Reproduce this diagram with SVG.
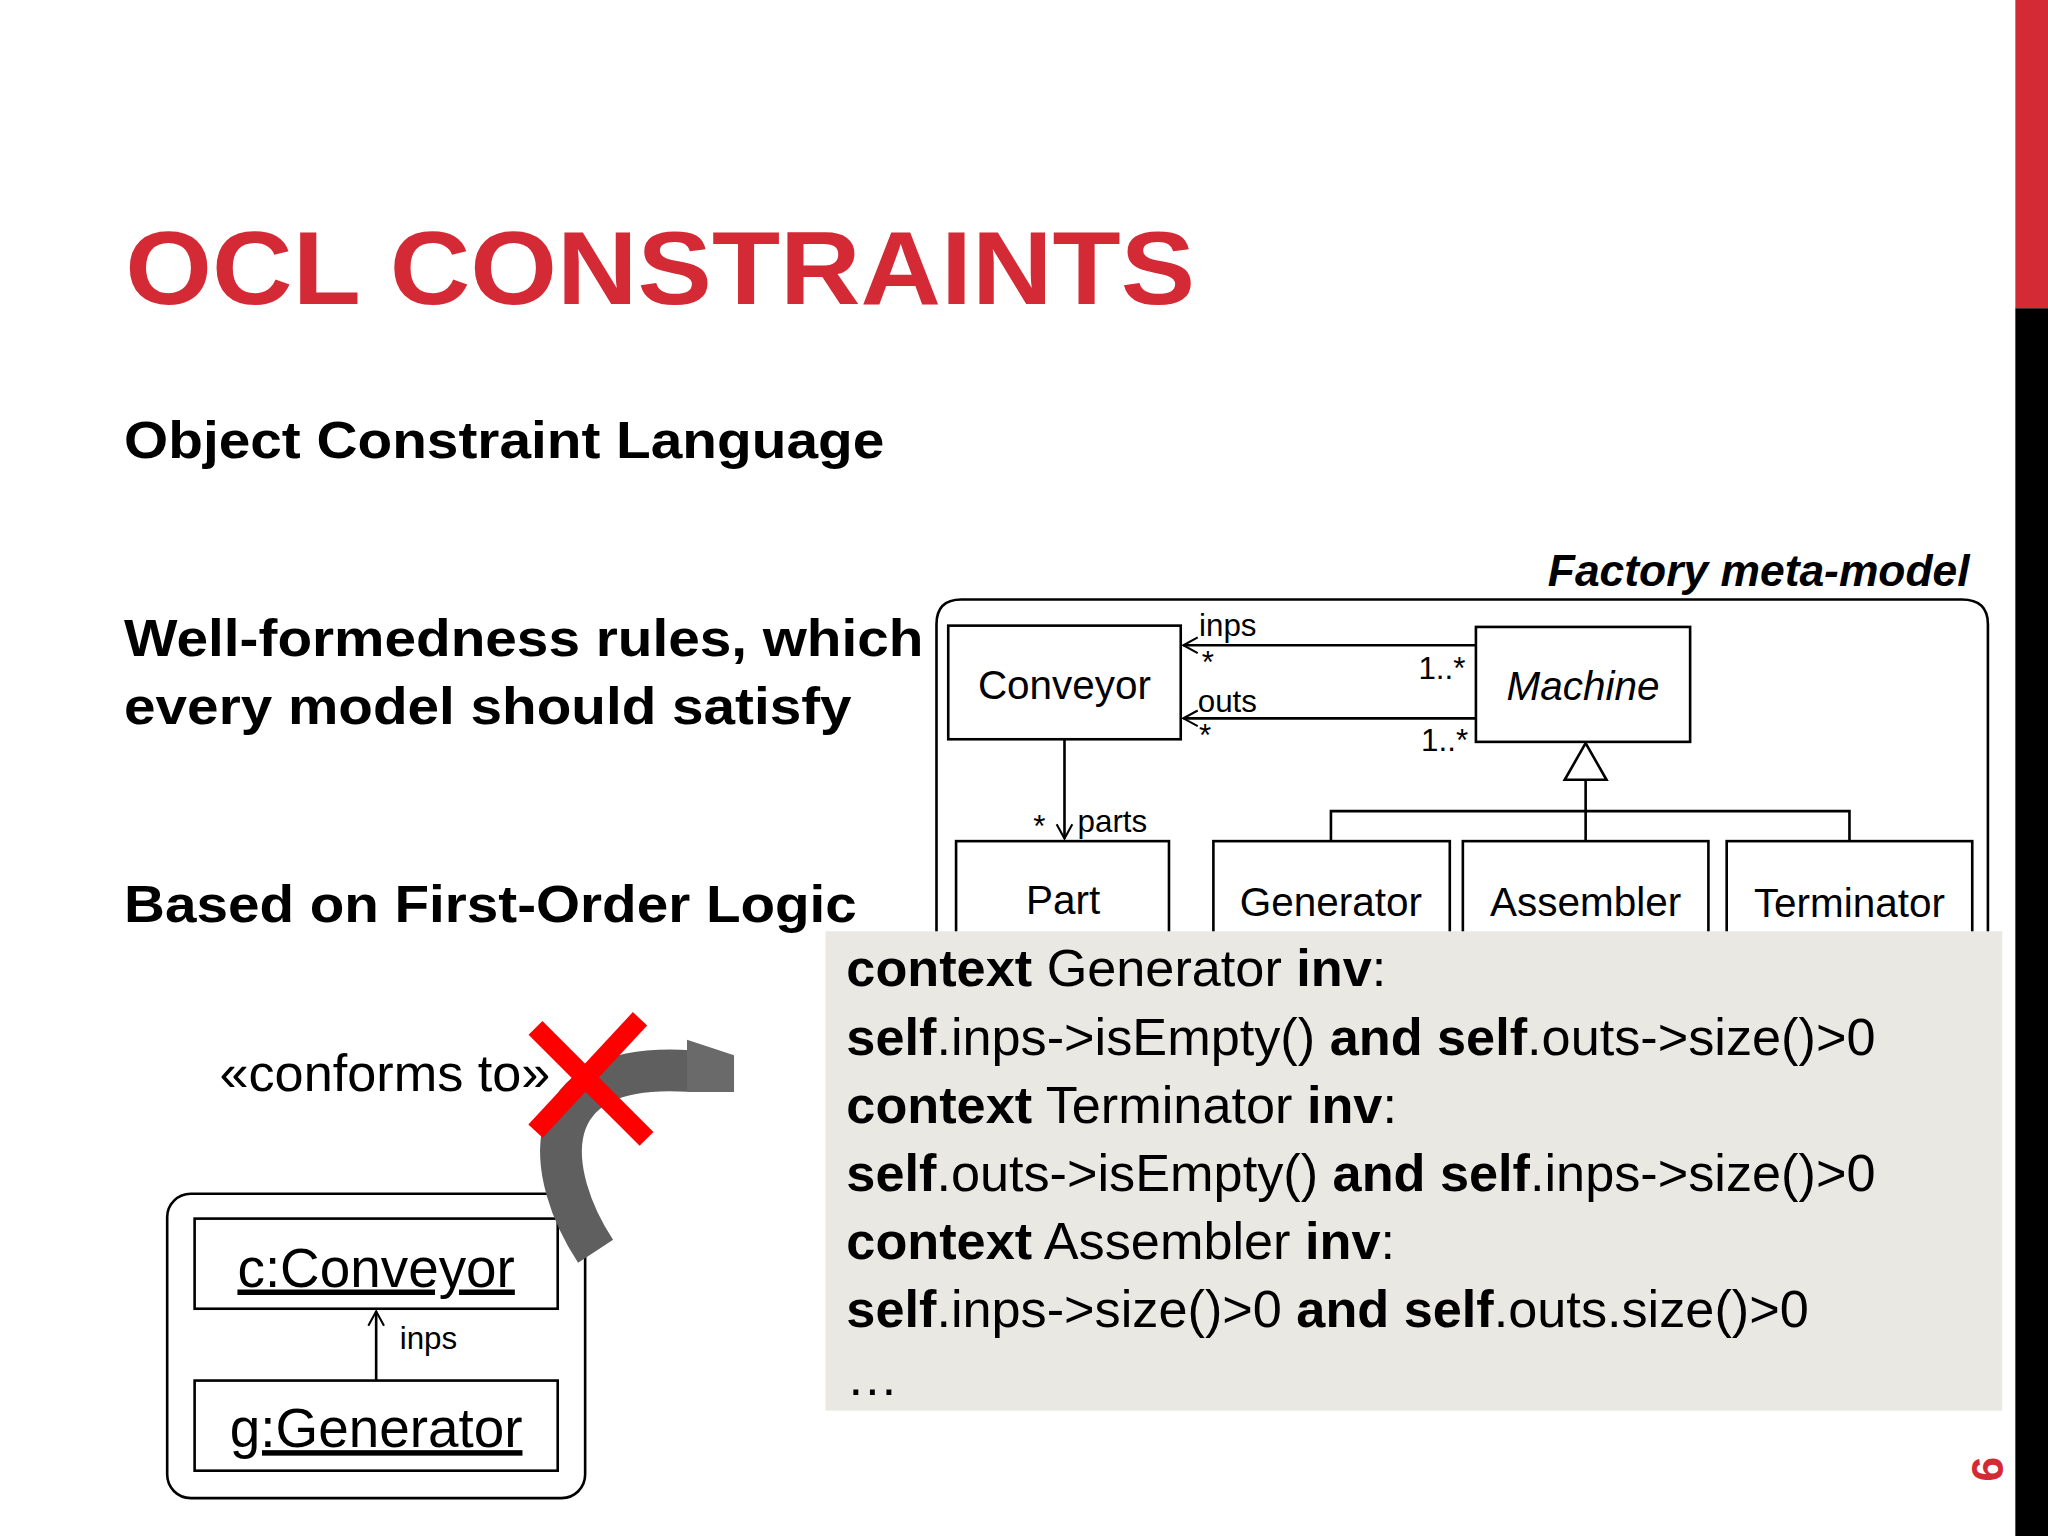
<svg xmlns="http://www.w3.org/2000/svg" width="2048" height="1536" viewBox="0 0 2048 1536">
<defs>
<style>
.s{font-family:"Liberation Sans",Arial,sans-serif}
.b{font-weight:bold}
.box{fill:#fff;stroke:#000;stroke-width:2}
.ln{fill:none;stroke:#000;stroke-width:2}
.uml{font-family:"Liberation Sans",Arial,sans-serif;font-size:31px;text-anchor:middle}
.sm{font-family:"Liberation Sans",Arial,sans-serif;font-size:24px}
.code{font-family:"Liberation Sans",Arial,sans-serif;font-size:40px}
</style>
<marker id="open" markerWidth="14" markerHeight="14" refX="12" refY="7" orient="auto" markerUnits="userSpaceOnUse">
<path d="M1,1 L12,7 L1,13" fill="none" stroke="#000" stroke-width="1.6"/>
</marker>
</defs>
<rect width="2048" height="1536" fill="#fff"/>
<g transform="scale(1.30612)">
<rect x="1543" y="0" width="25" height="236" fill="#d42a35"/>
<rect x="1543" y="236" width="25" height="940" fill="#000"/>
<text transform="translate(1510,1125) rotate(90)" class="s b" font-size="34" fill="#d42a35" text-anchor="middle">9</text>

<text x="96" y="233" class="s b" font-size="80" fill="#d42a35" textLength="819" lengthAdjust="spacingAndGlyphs">OCL CONSTRAINTS</text>
<text x="95" y="351" class="s b" font-size="40" textLength="582" lengthAdjust="spacingAndGlyphs">Object Constraint Language</text>
<text x="95" y="502" class="s b" font-size="40" textLength="612" lengthAdjust="spacingAndGlyphs">Well-formedness rules, which</text>
<text x="95" y="554" class="s b" font-size="40" textLength="557" lengthAdjust="spacingAndGlyphs">every model should satisfy</text>
<text x="95" y="706" class="s b" font-size="40" textLength="561" lengthAdjust="spacingAndGlyphs">Based on First-Order Logic</text>

<text x="1508" y="449" class="s b" font-size="34" font-style="italic" text-anchor="end">Factory meta-model</text>
<path d="M717 720 V478 Q717 459 736 459 H1502 Q1522 459 1522 478 V720" class="ln" stroke-width="2.5"/>

<g id="connectors">
<line x1="1130" y1="494" x2="906" y2="494" class="ln" marker-end="url(#open)"/>
<line x1="1130" y1="550" x2="906" y2="550" class="ln" marker-end="url(#open)"/>
<line x1="815" y1="566" x2="815" y2="642" class="ln" stroke-width="1.5" marker-end="url(#open)"/>
<polyline points="1019,644 1019,621 1416,621 1416,644" class="ln"/>
<line x1="1214" y1="597" x2="1214" y2="644" class="ln"/>
<polygon points="1214,569 1198,597 1230,597" fill="#fff" stroke="#000" stroke-width="2"/>
<text x="918" y="487" class="sm">inps</text>
<text x="920" y="515" class="sm">*</text>
<text x="1122" y="520" class="sm" text-anchor="end">1..*</text>
<text x="917" y="545" class="sm">outs</text>
<text x="918" y="571" class="sm">*</text>
<text x="1124" y="575" class="sm" text-anchor="end">1..*</text>
<text x="791" y="641" class="sm">*</text>
<text x="825" y="637" class="sm">parts</text>
<line x1="288" y1="1057" x2="288" y2="1004" class="ln" marker-end="url(#open)"/>
<text x="306" y="1033" class="sm" font-size="27">inps</text>
</g>

<g id="conveyor"><rect x="726" y="479" width="178" height="87" class="box"/><text x="815" y="535" class="uml">Conveyor</text></g>
<g id="machine"><rect x="1130" y="480" width="164" height="88" class="box"/><text x="1212" y="536" class="uml" font-style="italic">Machine</text></g>
<g id="part"><rect x="732" y="644" width="163" height="80" class="box"/><text x="814" y="700" class="uml">Part</text></g>
<g id="generator"><rect x="929" y="644" width="181" height="80" class="box"/><text x="1019" y="701" class="uml">Generator</text></g>
<g id="assembler"><rect x="1120" y="644" width="188" height="80" class="box"/><text x="1214" y="701" class="uml">Assembler</text></g>
<g id="terminator"><rect x="1322" y="644" width="188" height="80" class="box"/><text x="1416" y="702" class="uml">Terminator</text></g>

<g id="ocl">
<rect x="632" y="713" width="901" height="367" fill="#e9e8e3"/>
<text x="648" y="755" class="code"><tspan font-weight="bold">context</tspan> Generator <tspan font-weight="bold">inv</tspan>:</text>
<text x="648" y="808" class="code"><tspan font-weight="bold">self</tspan>.inps-&gt;isEmpty() <tspan font-weight="bold">and self</tspan>.outs-&gt;size()&gt;0</text>
<text x="648" y="860" class="code"><tspan font-weight="bold">context</tspan> Terminator <tspan font-weight="bold">inv</tspan>:</text>
<text x="648" y="912" class="code"><tspan font-weight="bold">self</tspan>.outs-&gt;isEmpty() <tspan font-weight="bold">and self</tspan>.inps-&gt;size()&gt;0</text>
<text x="648" y="964" class="code"><tspan font-weight="bold">context</tspan> Assembler <tspan font-weight="bold">inv</tspan>:</text>
<text x="648" y="1016" class="code"><tspan font-weight="bold">self</tspan>.inps-&gt;size()&gt;0 <tspan font-weight="bold">and self</tspan>.outs.size()&gt;0</text>
<text x="648" y="1068" class="code">…</text>
</g>

<text x="168" y="835" class="s" font-size="40">«conforms to»</text>
<g id="instance">
<rect x="128" y="914" width="320" height="233" rx="18" class="ln" stroke-width="2.5"/>
<g id="c"><rect x="149" y="933" width="278" height="69" class="box" stroke-width="2.5"/>
<text x="288" y="985" class="s" font-size="42" text-anchor="middle" text-decoration="underline">c:Conveyor</text></g>
<g id="g"><rect x="149" y="1057" width="278" height="69" class="box" stroke-width="2.5"/>
<text x="288" y="1108" class="s" font-size="42" text-anchor="middle" text-decoration="underline">g:Generator</text></g>
</g>

<g id="bigarrow">
<path d="M456 958 C 418 900 405 812 528 820" fill="none" stroke="#5f5f5f" stroke-width="32"/>
<polygon points="526,796 562,808 562,836 526,836" fill="#6a6a6a"/>
<line x1="410" y1="787" x2="495" y2="872" stroke="#f00" stroke-width="15"/>
<line x1="490" y1="780" x2="410" y2="866" stroke="#f00" stroke-width="15"/>
</g>
</g>
</svg>
